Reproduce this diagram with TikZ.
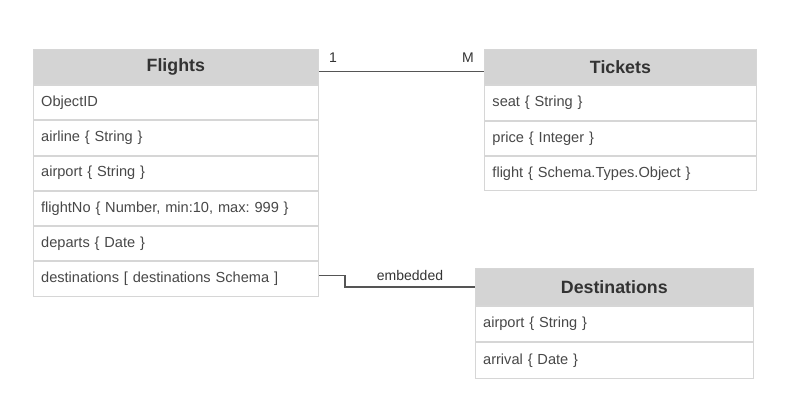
\documentclass[tikz,border=0pt]{standalone}
\usepackage{fontspec}
\setmainfont{Liberation Sans}
\definecolor{hdrfill}{HTML}{D4D4D4}
\definecolor{boxline}{HTML}{D6D6D6}
\definecolor{hdrtext}{HTML}{333333}
\definecolor{rowtext}{HTML}{484848}
\definecolor{conn}{HTML}{555555}
\tikzset{
  hdr/.style={draw=boxline, fill=hdrfill, line width=0.9pt, text=hdrtext,
    font=\fontsize{17.8}{20}\selectfont\bfseries, inner sep=0pt},
  row/.style={draw=boxline, fill=white, line width=0.9pt, text=rowtext,
    font=\fontsize{14.6}{17}\selectfont\frenchspacing, inner ysep=0pt, inner xsep=8pt, align=left},
  conline/.style={draw=conn, line width=1.3pt},
  lbl/.style={text=hdrtext, font=\fontsize{14}{16}\selectfont, inner sep=0pt}
}
\begin{document}
\frenchspacing
\begin{tikzpicture}[x=1pt,y=-1pt]
\useasboundingbox (0,0) rectangle (800,403);
% Flights
\node[hdr, minimum width=285.3pt, minimum height=35pt, anchor=north west] (fh) at (32.7,49.3) {Flights};
\node[row, text width=269.3pt, minimum height=34.3pt, anchor=north] (f1) at (fh.south) {ObjectID};
\node[row, text width=269.3pt, minimum height=34.3pt, anchor=north] (f2) at (f1.south) {airline \{ String \}};
\node[row, text width=269.3pt, minimum height=34.3pt, anchor=north] (f3) at (f2.south) {airport \{ String \}};
\node[row, text width=269.3pt, minimum height=34.3pt, anchor=north] (f4) at (f3.south) {flightNo \{ Number, min:10, max: 999 \}};
\node[row, text width=269.3pt, minimum height=34.3pt, anchor=north] (f5) at (f4.south) {departs \{ Date \}};
\node[row, text width=269.3pt, minimum height=34.3pt, anchor=north] (f6) at (f5.south) {destinations [ destinations Schema ]};
% Tickets
\node[hdr, minimum width=272pt, minimum height=35pt, anchor=north west] (th) at (484,49.3) {Tickets};
\node[row, text width=256pt, minimum height=34.5pt, anchor=north] (t1) at (th.south) {seat \{ String \}};
\node[row, text width=256pt, minimum height=34.5pt, anchor=north] (t2) at (t1.south) {price \{ Integer \}};
\node[row, text width=256pt, minimum height=34.5pt, anchor=north] (t3) at (t2.south) {flight \{ Schema.Types.Object \}};
% Destinations
\node[hdr, minimum width=278.3pt, minimum height=36.7pt, anchor=north west] (dh) at (474.7,268.3) {Destinations};
\node[row, text width=262.3pt, minimum height=35.5pt, anchor=north] (d1) at (dh.south) {airport \{ String \}};
\node[row, text width=262.3pt, minimum height=35.5pt, anchor=north] (d2) at (d1.south) {arrival \{ Date \}};
% connectors
\draw[conline] ([yshift=-4.2pt]fh.east) -- ([yshift=-4.2pt]th.west);
\coordinate (bend) at (345,270);
\draw[conline] ([yshift=3pt]f6.east) -- ([yshift=3pt]f6.east -| bend) |- (dh.west);
% labels
\node[lbl] (one) at (333,58) {1};
\node[lbl] (many) at (468,58) {M};
\node[lbl] (emb) at (410,275) {embedded};
\end{tikzpicture}
\end{document}
